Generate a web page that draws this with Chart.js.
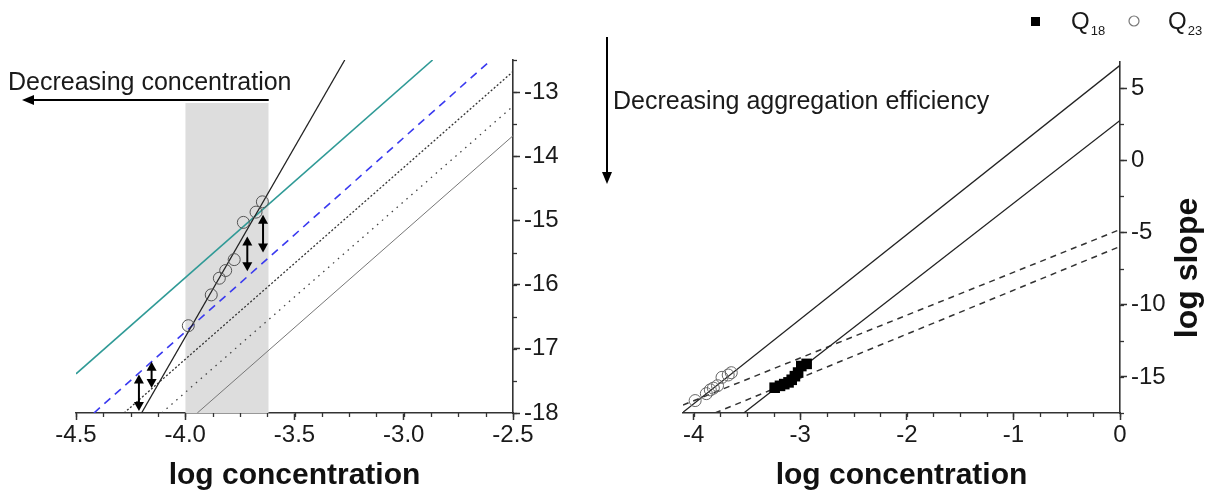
<!DOCTYPE html>
<html><head><meta charset="utf-8">
<script src="https://cdn.jsdelivr.net/npm/chart.js@4.4.0/dist/chart.umd.min.js"></script>
<style>
html,body{margin:0;padding:0;background:#fff;width:1206px;height:494px;overflow:hidden}
#wl{position:absolute;left:0;top:0;width:590px;height:494px}
#wr{position:absolute;left:590px;top:0;width:616px;height:494px}
canvas{display:block}
</style></head><body>
<div id="wl"><canvas id="cl" width="590" height="494"></canvas></div>
<div id="wr"><canvas id="cr" width="616" height="494"></canvas></div>
<script>
// ---------- data ----------
// Q23 measurements (open circles, both panels)
const q23X = [-3.986, -3.881, -3.844, -3.815, -3.776, -3.734, -3.676, -3.647];
const q23Y = [-16.64, -16.16, -15.90, -15.78, -15.61, -15.03, -14.87, -14.71];
// Q18 measurements (filled squares, right panel)
const q18X = [-3.24, -3.19, -3.15, -3.11, -3.08, -3.05, -3.02, -2.99, -2.94];
const q18Y = [-15.75, -15.62, -15.50, -15.38, -15.20, -14.95, -14.70, -14.25, -14.10];

// left panel lines (end points)
const steepX = [-4.20, -3.27],   steepY = [-18, -12.5];
const tealX = [-4.5, -2.868],    tealY = [-17.39, -12.5];
const blueX = [-4.418, -2.60],   blueY = [-18, -12.5];
const shortDashX = [-4.28, -2.5], shortDashY = [-18, -12.68];
const dotX = [-4.108, -2.5],     dotY = [-18, -13.22];
const greyX = [-3.945, -2.5],    greyY = [-18, -13.68];
const shadeX = [-4.0, -3.618],   shadeTop = -13.17;
// double-headed arrows (left panel)
const arrowX = [-3.644, -3.716, -4.154, -4.212];
const arrowTop = [-14.91, -15.25, -17.20, -17.40];
const arrowBot = [-15.50, -15.79, -17.61, -17.97];

// right panel lines
const solidAX = [-4.1, 0],  solidAY = [-17.45, 6.57];
const solidBX = [-3.53, 0], solidBY = [-17.5, 2.75];
const dashAX = [-4.1, 0],   dashAY = [-16.95, -4.8];
const dashBX = [-3.80, 0],  dashBY = [-17.5, -5.97];

// ticks
const leftXTicks = [-4.5, -4.0, -3.5, -3.0, -2.5];
const leftXLabels = ['-4.5', '-4.0', '-3.5', '-3.0', '-2.5'];
const leftYTicks = [-18, -17, -16, -15, -14, -13];
const leftYLabels = ['-18', '-17', '-16', '-15', '-14', '-13'];
const rightXTicks = [-4, -3, -2, -1, 0];
const rightXLabels = ['-4', '-3', '-2', '-1', '0'];
const rightYTicks = [-15, -10, -5, 0, 5];
const rightYLabels = ['-15', '-10', '-5', '0', '5'];

// ---------- helpers ----------
const FONT = "'Liberation Sans', Arial, Helvetica, sans-serif";
Chart.defaults.font.family = FONT;
Chart.defaults.color = '#1a1a1a';
const pts = (xs, ys) => xs.map((x, i) => ({x: x, y: ys[i]}));

function lineDS(xs, ys, color, width, dash, order) {
  return {data: pts(xs, ys), showLine: true, borderColor: color, borderWidth: width,
    borderDash: dash || [], pointRadius: 0, fill: false, order: order || 1};
}

function axis(pos, min, max, ticks, labels, size, title) {
  return {
    type: 'linear', position: pos, min: min, max: max,
    afterBuildTicks: s => { s.ticks = ticks.map(v => ({value: v})); },
    afterFit: s => { if (pos === 'bottom') s.height = size; else s.width = size; },
    ticks: {autoSkip: false, maxRotation: 0, padding: pos === 'bottom' ? 1 : 4,
      font: {size: 24, lineHeight: 1.2}, color: '#1a1a1a',
      callback: (v, i) => labels[i]},
    grid: {display: true, drawOnChartArea: false, drawTicks: true, tickLength: 7,
      tickWidth: 1.5, tickColor: '#333', color: '#333'},
    border: {display: true, color: '#333', width: 1.6},
    title: title ? {display: true, text: title, font: {size: 30, weight: 'bold', lineHeight: 1.2},
      color: '#111', padding: {top: 0, bottom: 0}} : {display: false}
  };
}

const minorTicks = {
  id: 'minorTicks',
  afterDraw(chart, args, o) {
    const ctx = chart.ctx, xs = chart.scales.x, ys = chart.scales.y;
    ctx.save(); ctx.strokeStyle = '#333'; ctx.lineWidth = 1.3;
    let k0 = Math.ceil(xs.min / o.x - 1e-9);
    for (let k = k0; k * o.x <= xs.max + 1e-9; k++) {
      const px = Math.round(xs.getPixelForValue(k * o.x)) + 0.5;
      ctx.beginPath(); ctx.moveTo(px, xs.top); ctx.lineTo(px, xs.top + o.len); ctx.stroke();
    }
    k0 = Math.ceil(ys.min / o.y - 1e-9);
    for (let k = k0; k * o.y <= ys.max + 1e-9; k++) {
      const py = Math.round(ys.getPixelForValue(k * o.y)) + 0.5;
      ctx.beginPath(); ctx.moveTo(ys.left, py); ctx.lineTo(ys.left + o.len, py); ctx.stroke();
    }
    ctx.restore();
  }
};

function head(ctx, tx, ty, dx, dy, len, hw) {
  const bx = tx - dx * len, by = ty - dy * len;
  ctx.beginPath();
  ctx.moveTo(tx, ty);
  ctx.lineTo(bx - dy * hw, by + dx * hw);
  ctx.lineTo(bx + dy * hw, by - dx * hw);
  ctx.closePath(); ctx.fill();
}

const leftAnno = {
  id: 'leftAnno',
  afterDatasetsDraw(chart) {
    const {ctx} = chart, x = chart.scales.x, y = chart.scales.y;
    ctx.save(); ctx.strokeStyle = '#000'; ctx.fillStyle = '#000'; ctx.lineWidth = 2;
    for (let i = 0; i < arrowX.length; i++) {
      const px = x.getPixelForValue(arrowX[i]);
      const p1 = y.getPixelForValue(arrowTop[i]), p2 = y.getPixelForValue(arrowBot[i]);
      ctx.beginPath(); ctx.moveTo(px, p1 + 7); ctx.lineTo(px, p2 - 7); ctx.stroke();
      head(ctx, px, p1, 0, -1, 9, 5);
      head(ctx, px, p2, 0, 1, 9, 5);
    }
    ctx.restore();
  },
  afterDraw(chart) {
    const {ctx} = chart, x = chart.scales.x;
    ctx.save();
    ctx.fillStyle = '#1a1a1a'; ctx.font = '25px ' + FONT; ctx.textBaseline = 'alphabetic';
    ctx.fillText('Decreasing concentration', 8, 90);
    const xr = x.getPixelForValue(shadeX[1]);
    ctx.strokeStyle = '#000'; ctx.fillStyle = '#000'; ctx.lineWidth = 2;
    ctx.beginPath(); ctx.moveTo(xr, 100); ctx.lineTo(30, 100); ctx.stroke();
    head(ctx, 22, 100, -1, 0, 12, 5);
    ctx.restore();
  }
};

const rightAnno = {
  id: 'rightAnno',
  afterDraw(chart) {
    const {ctx} = chart;
    ctx.save();
    ctx.fillStyle = '#1a1a1a'; ctx.font = '25px ' + FONT; ctx.textBaseline = 'alphabetic';
    ctx.fillText('Decreasing aggregation efficiency', 23, 109);
    ctx.strokeStyle = '#000'; ctx.fillStyle = '#000'; ctx.lineWidth = 2;
    ctx.beginPath(); ctx.moveTo(17, 37); ctx.lineTo(17, 175); ctx.stroke();
    head(ctx, 17, 184, 0, 1, 12, 5);
    // legend
    ctx.fillStyle = '#000';
    ctx.fillRect(441, 17, 9, 9);
    ctx.fillStyle = '#1a1a1a';
    ctx.font = '24px ' + FONT; ctx.fillText('Q', 481, 29);
    let w = ctx.measureText('Q').width;
    ctx.font = '13px ' + FONT; ctx.fillText('18', 481 + w + 1, 35);
    ctx.strokeStyle = '#777'; ctx.lineWidth = 1.2;
    ctx.beginPath(); ctx.arc(544, 21, 5, 0, Math.PI * 2); ctx.stroke();
    ctx.font = '24px ' + FONT; ctx.fillText('Q', 578, 29);
    w = ctx.measureText('Q').width;
    ctx.font = '13px ' + FONT; ctx.fillText('23', 578 + w + 1, 35);
    // y-axis title
    ctx.translate(598, 268); ctx.rotate(-Math.PI / 2);
    ctx.font = 'bold 32px ' + FONT; ctx.textAlign = 'center'; ctx.textBaseline = 'middle';
    ctx.fillStyle = '#111';
    ctx.fillText('log slope', 0, 0);
    ctx.restore();
  }
};

// ---------- left chart ----------
new Chart(document.getElementById('cl'), {
  type: 'scatter',
  data: {datasets: [
    {data: pts(q23X, q23Y), pointStyle: 'circle', pointRadius: 6, pointBorderColor: '#555',
     pointBackgroundColor: 'rgba(0,0,0,0)', pointBorderWidth: 1, showLine: false, order: 0},
    lineDS(steepX, steepY, '#222', 1.3, [], 1),
    lineDS(tealX, tealY, '#2f9a96', 1.6, [], 1),
    lineDS(blueX, blueY, '#3a3af0', 1.6, [8, 6], 1),
    lineDS(shortDashX, shortDashY, '#333', 1.3, [2, 2], 1),
    lineDS(dotX, dotY, '#444', 1.3, [1.5, 5], 1),
    lineDS(greyX, greyY, '#777', 1, [], 1),
    {data: pts(shadeX, [shadeTop, shadeTop]), showLine: true, borderWidth: 0, borderColor: 'rgba(0,0,0,0)',
     backgroundColor: '#dddddd', fill: 'start', pointRadius: 0, order: 10}
  ]},
  options: {
    responsive: false, animation: false, devicePixelRatio: 1,
    layout: {padding: {left: 76, top: 60, right: 0, bottom: 0}},
    plugins: {legend: {display: false}, tooltip: {enabled: false},
      minorTicks: {x: 0.125, y: 0.5, len: 4}},
    scales: {
      x: axis('bottom', -4.5, -2.5, leftXTicks, leftXLabels, 81, 'log concentration'),
      y: axis('right', -18, -12.5, leftYTicks, leftYLabels, 77, null)
    }
  },
  plugins: [minorTicks, leftAnno]
});

// ---------- right chart ----------
new Chart(document.getElementById('cr'), {
  type: 'scatter',
  data: {datasets: [
    {data: pts(q23X, q23Y), pointStyle: 'circle', pointRadius: 6, pointBorderColor: '#666',
     pointBackgroundColor: 'rgba(0,0,0,0)', pointBorderWidth: 1, showLine: false, order: 0},
    {data: pts(q18X, q18Y), pointStyle: 'rect', pointRadius: 7.5, pointBorderColor: '#000',
     pointBackgroundColor: '#000', pointBorderWidth: 0, showLine: false, order: 0},
    lineDS(solidAX, solidAY, '#222', 1.3, [], 1),
    lineDS(solidBX, solidBY, '#222', 1.3, [], 1),
    lineDS(dashAX, dashAY, '#333', 1.5, [6, 5], 1),
    lineDS(dashBX, dashBY, '#333', 1.5, [6, 5], 1)
  ]},
  options: {
    responsive: false, animation: false, devicePixelRatio: 1,
    layout: {padding: {left: 93, top: 62, right: 0, bottom: 0}},
    plugins: {legend: {display: false}, tooltip: {enabled: false},
      minorTicks: {x: 0.25, y: 2.5, len: 4}},
    scales: {
      x: axis('bottom', -4.1, 0, rightXTicks, rightXLabels, 81, 'log concentration'),
      y: axis('right', -17.5, 6.8, rightYTicks, rightYLabels, 86, null)
    }
  },
  plugins: [minorTicks, rightAnno]
});
</script>
</body></html>
